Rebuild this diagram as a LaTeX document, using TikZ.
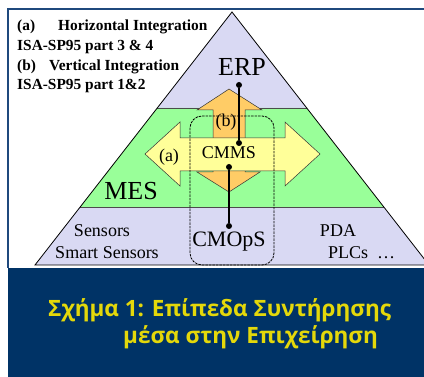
\documentclass[tikz,border=0pt]{standalone}
\usepackage{fontspec}
\setmainfont{Liberation Serif}
\newfontfamily\captionfont{Open Sans}
\usepackage{tikz}
\usetikzlibrary{calc}

\definecolor{lavender}{RGB}{217,217,243}
\definecolor{mesgreen}{RGB}{153,255,153}
\definecolor{arrowyellow}{RGB}{255,255,153}
\definecolor{arroworange}{RGB}{255,204,102}
\definecolor{frameblue}{RGB}{31,73,125}
\definecolor{navy}{RGB}{0,51,102}
\definecolor{captionyellow}{RGB}{228,216,10}

\tikzset{
  dot/.style={circle,fill=black,inner sep=0pt,minimum size=6pt},
  link/.style={line width=2pt},
  arrowshape/.style={draw=black!80,line width=0.5pt},
  fsz/.style={font=\fontsize{#1}{#1}\selectfont,inner sep=0pt},
  captiontext/.style={anchor=west,inner sep=0pt,text=captionyellow,
    font=\captionfont\bfseries\fontsize{22.5}{22.5}\selectfont}
}

\begin{document}
\begin{tikzpicture}[x=1pt,y=-1pt]
  \useasboundingbox (0,0) rectangle (424,377);
  \clip (0,0) rectangle (424,377);
  \fill[white] (0,0) rectangle (424,377);
  \fill[navy] (8,268) rectangle (424,377);
  \draw[frameblue,line width=1.6pt] (8,268)--(8,9)--(430,9);

  \coordinate (apex) at (232,12);
  \coordinate (bl) at (35,265);
  \coordinate (br) at (429,265);
  \coordinate (ml) at ($(apex)!0.3794!(bl)$);
  \coordinate (mr) at ($(apex)!0.3794!(br)$);
  \coordinate (ll) at ($(apex)!0.7708!(bl)$);
  \coordinate (lr) at ($(apex)!0.7708!(br)$);
  \fill[lavender] (apex)--(ml)--(mr)--cycle;
  \fill[mesgreen] (ml)--(ll)--(lr)--(mr)--cycle;
  \fill[lavender] (ll)--(bl)--(br)--(lr)--cycle;
  \draw[black!70,line width=0.8pt] (ml)--(mr) (ll)--(lr);
  \draw[line width=0.8pt] (apex)--(bl)--(br)--cycle;

  \filldraw[arrowshape,fill=arroworange] (229,89)--(262,110)--(245,110)--(245,172)--(260,172)
    --(229,192)--(197,172)--(213,172)--(213,110)--(197,110)--cycle;
  \filldraw[arrowshape,fill=arrowyellow] (145,154)--(180,122)--(180,138)--(285,138)--(285,122)
    --(320,154)--(285,186)--(285,171)--(180,171)--(180,186)--cycle;
  \draw[line width=0.8pt,dash pattern=on 2.5pt off 1pt,rounded corners=12pt] (190,116) rectangle (274,265);

  \node[fsz=26] (erp) at (242,67) {ERP};
  \node[fsz=26] (mes) at (131,191) {MES};
  \node[fsz=18] (cmms) at (229,153) {CMMS};
  \node[fsz=18] (la) at (169,157) {(a)};
  \node[fsz=18] (lb) at (226,122) {(b)};
  \node[fsz=22] (cmops) at (229,242) {CMOpS};
  \node[fsz=18] (sens) at (102,231) {Sensors};
  \node[fsz=18] (smart) at (107,253) {Smart Sensors};
  \node[fsz=18] (pda) at (338,231) {PDA};
  \node[fsz=18,anchor=west] (plc) at (328,253) {PLCs\ \ \dots};

  \node[dot] (erpdot) at (239,85) {};
  \node[dot] (cmmstop) at (239,143) {};
  \node[dot] (cmmsbot) at (229,167) {};
  \node[dot] (cmopsdot) at (229,226) {};
  \draw[link] (erpdot)--(cmmstop);
  \draw[link] (cmmsbot)--(cmopsdot);

  \begin{scope}[every node/.style={fsz=15.4,font=\fontsize{15.4}{15.4}\selectfont\bfseries,anchor=west}]
    \node (ha) at (17,27) {\makebox[41pt][l]{(a)}Horizontal Integration};
    \node (hp) at (17,47) {ISA-SP95 part 3 \& 4};
    \node (va) at (17,67) {\makebox[32pt][l]{(b)}Vertical Integration};
    \node (vp) at (17,86) {ISA-SP95 part 1\&2};
  \end{scope}

  \node[captiontext] (cap1) at (48,310) {Σχήμα 1: Επίπεδα Συντήρησης};
  \node[captiontext] (cap2) at (123,337) {μέσα στην Επιχείρηση};
\end{tikzpicture}
\end{document}
